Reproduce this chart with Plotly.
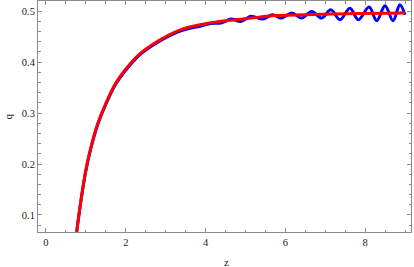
import plotly.graph_objects as go

# Red curve (smooth limit)
z_red = [0.77, 0.877, 1.0, 1.13, 1.3, 1.5, 1.75, 2.05, 2.38, 2.7, 3.1, 3.35, 3.6, 4.1, 4.6, 5.1, 5.68, 6.5, 7.5,
         8.5, 9.0]
q_red = [0.067, 0.129, 0.188, 0.234, 0.280, 0.319, 0.359, 0.391, 0.418, 0.436, 0.454, 0.463, 0.469, 0.477,
         0.482, 0.486, 0.491, 0.493, 0.495, 0.496, 0.497]

# Blue curve (oscillating)
z_blue = [0.77, 0.877, 1.0, 1.13, 1.3, 1.5, 1.75, 2.05, 2.38, 2.7, 3.1, 3.4, 3.64, 3.89, 4.14, 4.39, 4.64,
          4.89, 5.14, 5.43, 5.68, 5.9, 6.16, 6.41, 6.66, 6.91, 7.14, 7.37, 7.62, 7.83, 8.1, 8.29, 8.5, 8.7,
          8.87, 9.0]
q_blue = [0.067, 0.128, 0.187, 0.232, 0.278, 0.317, 0.357, 0.389, 0.416, 0.434, 0.452, 0.462, 0.467, 0.471,
          0.476, 0.477, 0.4845, 0.480, 0.490, 0.4845, 0.493, 0.4865, 0.4963, 0.4865, 0.4993, 0.4865, 0.5027,
          0.4831, 0.506, 0.4831, 0.508, 0.4811, 0.5106, 0.4811, 0.5126, 0.493]

x_ticks = [0, 2, 4, 6, 8]
y_ticks = [0.1, 0.2, 0.3, 0.4, 0.5]

fig = go.Figure()
fig.add_trace(go.Scatter(x=z_blue, y=q_blue, mode="lines", hoverinfo="skip",
                         line=dict(color="#0000FF", width=3, shape="spline", smoothing=1.0)))
fig.add_trace(go.Scatter(x=z_red, y=q_red, mode="lines", hoverinfo="skip",
                         line=dict(color="#FF0000", width=3, shape="spline", smoothing=1.0)))

frame = "#8c8c8c"
serif = "Liberation Serif"
tickfont = dict(family=serif, size=10.5, color="#222222")
fig.update_layout(
    width=414, height=267,
    margin=dict(l=38, r=3, t=1, b=35),
    plot_bgcolor="white", paper_bgcolor="white",
    showlegend=False,
    xaxis=dict(range=[-0.2, 9.15], tickvals=x_ticks, ticktext=[str(v) for v in x_ticks],
               showgrid=False, zeroline=False, showline=True, mirror="ticks", linecolor=frame,
               linewidth=1, ticks="inside", ticklen=4, tickcolor=frame, tickwidth=1,
               tickfont=tickfont,
               minor=dict(dtick=0.5, tick0=0, ticks="inside", ticklen=2.5, tickcolor=frame, showgrid=False)),
    yaxis=dict(range=[0.0666, 0.52], tickvals=y_ticks, ticktext=[f"{v:.1f}" for v in y_ticks],
               showgrid=False, zeroline=False, showline=True, mirror="ticks", linecolor=frame,
               linewidth=1, ticks="inside", ticklen=4, tickcolor=frame, tickwidth=1,
               tickfont=tickfont,
               minor=dict(dtick=0.02, tick0=0, ticks="inside", ticklen=2.5, tickcolor=frame, showgrid=False)),
    annotations=[
        dict(text="z", xref="paper", yref="paper", x=0.505, y=-30 / 231, xanchor="center", yanchor="middle",
             showarrow=False, font=dict(family=serif, size=11, color="#222222")),
        dict(text="q", xref="paper", yref="paper", x=-31 / 373, y=0.5, xanchor="center", yanchor="middle",
             textangle=-90, showarrow=False, font=dict(family=serif, size=11, color="#222222")),
    ],
)

fig.write_html("out.html", config={"displayModeBar": False},
               post_script="document.body.style.margin='0';")
